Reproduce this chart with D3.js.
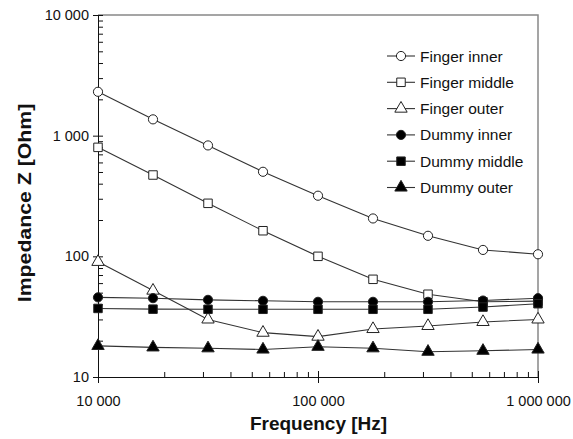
<!DOCTYPE html>
<html><head><meta charset="utf-8">
<script src="https://cdn.jsdelivr.net/npm/d3@7"></script>
<style>body{margin:0;background:#fff}svg{display:block}</style>
</head><body>
<svg id="c" width="573" height="439"></svg>
<script>
const frequencies = [10000, 17783, 31623, 56234, 100000, 177828, 316228, 562341, 1000000];
const fingerInner  = [2310, 1365, 830, 502, 318, 206, 148, 113, 104];
const fingerMiddle = [800, 472, 275, 163, 100, 64.5, 48.5, 42, 42.5];
const fingerOuter  = [90, 52, 30, 23.3, 21.6, 25, 26.5, 28.6, 30];
const dummyInner   = [45.7, 45, 43.6, 42.8, 42, 42, 42, 43, 45];
const dummyMiddle  = [37, 36.5, 36.4, 36.4, 36.4, 36.4, 36.4, 38, 40.5];
const dummyOuter   = [18.1, 17.6, 17.3, 16.9, 17.8, 17.3, 16.2, 16.5, 16.9];
const seriesNames  = ["Finger inner", "Finger middle", "Finger outer", "Dummy inner", "Dummy middle", "Dummy outer"];
const xTickLabels  = ["10 000", "100 000", "1 000 000"];
const yTickLabels  = ["10", "100", "1 000", "10 000"];
const xTickValues  = [1e4, 1e5, 1e6];
const yTickValues  = [10, 100, 1000, 10000];

const series = [
  {name: seriesNames[0], values: fingerInner,  shape: d3.symbolCircle,   fill: "#fff"},
  {name: seriesNames[1], values: fingerMiddle, shape: d3.symbolSquare,   fill: "#fff"},
  {name: seriesNames[2], values: fingerOuter,  shape: d3.symbolTriangle, fill: "#fff"},
  {name: seriesNames[3], values: dummyInner,   shape: d3.symbolCircle,   fill: "#000"},
  {name: seriesNames[4], values: dummyMiddle,  shape: d3.symbolSquare,   fill: "#000"},
  {name: seriesNames[5], values: dummyOuter,   shape: d3.symbolTriangle, fill: "#000"}
];

const svg = d3.select("#c");
const L = 98, R = 538, T = 15, B = 377;
const x = d3.scaleLog().domain([1e4, 1e6]).range([L, R]);
const y = d3.scaleLog().domain([10, 10000]).range([B, T]);
const font = "'Liberation Sans', Arial, sans-serif";

// frame (top and right) in grey
svg.append("path").attr("d", `M${L},${T}H${R}V${B}`).attr("fill", "none").attr("stroke", "#888").attr("stroke-width", 1.5);

// minor ticks
const xMinor = [];
for (let d = 1e4; d < 1e6; d *= 10) for (let k = 2; k <= 9; k++) xMinor.push(d * k);
const yMinor = [];
for (let d = 10; d < 10000; d *= 10) for (let k = 2; k <= 9; k++) yMinor.push(d * k);

const xAxisMinor = d3.axisTop(x).tickValues(xMinor).tickSize(5).tickFormat("");
svg.append("g").attr("transform", `translate(0,${B})`).call(xAxisMinor)
  .call(g => g.select(".domain").remove());
const xAxis = d3.axisBottom(x).tickValues(xTickValues).tickSizeInner(6).tickSizeOuter(0)
  .tickFormat((d, i) => xTickLabels[i]);
const gx = svg.append("g").attr("transform", `translate(0,${B})`).call(xAxis);
gx.selectAll(".tick line").attr("y1", -6);
gx.selectAll("text").attr("font-family", font).attr("font-size", 14.5).attr("fill", "#111")
  .attr("y", 29).attr("dy", "0");
gx.select(".domain").attr("d", `M${L - 4},0.5H${R}`);

const yAxisMinor = d3.axisRight(y).tickValues(yMinor).tickSize(5).tickFormat("");
svg.append("g").attr("transform", `translate(${L},0)`).call(yAxisMinor)
  .call(g => g.select(".domain").remove());
const yAxis = d3.axisLeft(y).tickValues(yTickValues).tickSizeInner(5).tickSizeOuter(0)
  .tickFormat((d, i) => yTickLabels[i]);
const gy = svg.append("g").attr("transform", `translate(${L},0)`).call(yAxis);
gy.selectAll(".tick line").attr("x1", 5).attr("x2", -5);
gy.selectAll("text").attr("font-family", font).attr("font-size", 14.5).attr("fill", "#111").attr("x", -9);
gy.select(".domain").attr("d", `M0.5,${T}V${B + 6}`);

svg.selectAll(".domain, .tick line").attr("stroke", "#111");

// lines
const line = d3.line().x((d, i) => x(frequencies[i])).y(d => y(d));
series.forEach(s => {
  svg.append("path").datum(s.values).attr("d", line)
    .attr("fill", "none").attr("stroke", "#333").attr("stroke-width", 1.1);
});
const symSize = s => s.shape === d3.symbolTriangle ? 66 : (s.shape === d3.symbolSquare ? 72 : 66);
series.forEach(s => {
  const sym = d3.symbol().type(s.shape).size(symSize(s));
  svg.append("g").selectAll("path").data(s.values).join("path")
    .attr("d", sym)
    .attr("transform", (d, i) => `translate(${x(frequencies[i])},${y(d)})`)
    .attr("fill", s.fill).attr("stroke", "#222").attr("stroke-width", 1);
});

// legend
const lg = svg.append("g");
series.forEach((s, i) => {
  const yy = 56 + i * 26.3;
  lg.append("line").attr("x1", 387).attr("x2", 415).attr("y1", yy).attr("y2", yy)
    .attr("stroke", "#333").attr("stroke-width", 1.1);
  const sym = d3.symbol().type(s.shape).size(symSize(s));
  lg.append("path").attr("d", sym).attr("transform", `translate(401,${yy})`)
    .attr("fill", s.fill).attr("stroke", "#222").attr("stroke-width", 1);
  lg.append("text").attr("x", 420).attr("y", yy).attr("dy", "0.36em")
    .attr("font-family", font).attr("font-size", 15.5).attr("fill", "#111").text(s.name);
});

// axis titles
svg.append("text").attr("x", 318.5).attr("y", 430).attr("text-anchor", "middle")
  .attr("font-family", font).attr("font-size", 19).attr("font-weight", "bold").attr("fill", "#111")
  .text("Frequency [Hz]");
svg.append("text").attr("transform", "translate(31,203) rotate(-90) scale(1.12,1)").attr("text-anchor", "middle")
  .attr("font-family", font).attr("font-size", 19).attr("font-weight", "bold").attr("fill", "#111")
  .text("Impedance Z [Ohm]");
</script>
</body></html>
